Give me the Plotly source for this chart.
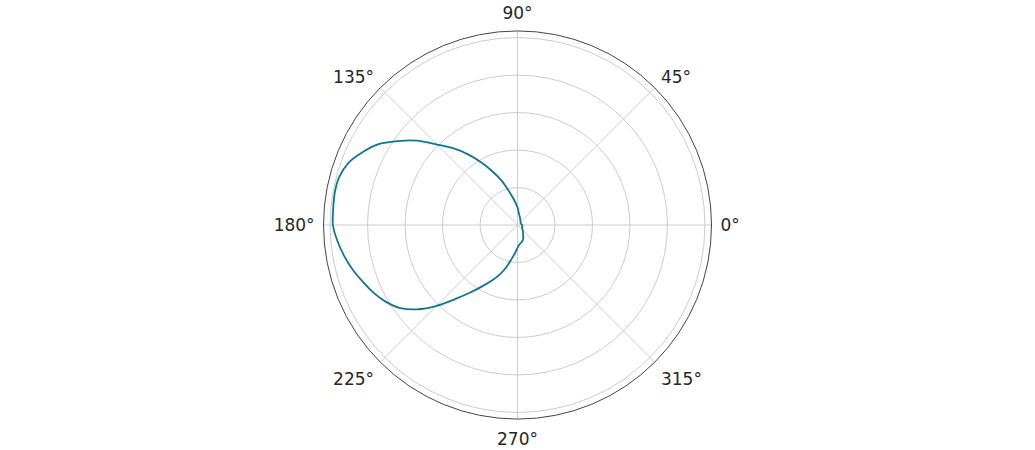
import plotly.graph_objects as go

theta_deg = [0, 10, 20, 30, 40, 50, 60, 70, 80, 85, 90, 95, 100, 105, 110, 115, 120, 125, 130,
             135, 140, 145, 150, 155, 160, 165, 170, 175, 180, 185, 190, 195, 200, 205, 210,
             215, 220, 225, 230, 235, 240, 245, 250, 255, 260, 265, 270, 275, 280, 285, 290,
             295, 300, 310, 320, 330, 340, 350, 360]
r_vals = [0.025, 0.022, 0.020, 0.020, 0.022, 0.025, 0.030, 0.040, 0.055, 0.068, 0.094, 0.118,
          0.150, 0.195, 0.255, 0.315, 0.385, 0.460, 0.535, 0.607, 0.700, 0.780, 0.860, 0.915,
          0.962, 0.985, 0.990, 0.987, 0.985, 0.965, 0.940, 0.912, 0.880, 0.850, 0.815, 0.770,
          0.700, 0.610, 0.515, 0.440, 0.378, 0.328, 0.283, 0.235, 0.185, 0.150, 0.122, 0.105,
          0.098, 0.092, 0.085, 0.073, 0.060, 0.045, 0.034, 0.028, 0.026, 0.025, 0.025]

r_ticks = [0.2, 0.4, 0.6, 0.8, 1.0]
ang_ticks = [0, 45, 90, 135, 180, 225, 270, 315]
ang_labels = [f"{a}°" for a in ang_ticks]

fig = go.Figure()
fig.add_trace(go.Scatterpolar(
    r=r_vals, theta=theta_deg, mode="lines",
    line=dict(color="#11758f", width=1.8, shape="spline", smoothing=0.8),
    showlegend=False, hoverinfo="skip",
))

fig.update_layout(
    width=1035, height=450,
    margin=dict(l=0, r=0, t=31, b=31),
    paper_bgcolor="white",
    font=dict(family="DejaVu Sans", size=17, color="#262626"),
    polar=dict(
        bgcolor="white",
        domain=dict(x=[0, 1], y=[0, 1]),
        radialaxis=dict(
            range=[0, 1.035], tickvals=r_ticks, showticklabels=False, ticks="",
            showline=False, gridcolor="#cccccc", gridwidth=1,
        ),
        angularaxis=dict(
            rotation=0, direction="counterclockwise",
            tickvals=ang_ticks, ticktext=ang_labels,
            ticks="outside", ticklen=5, tickcolor="rgba(0,0,0,0)",
            showline=True, linecolor="#444444", linewidth=1,
            gridcolor="#cccccc", gridwidth=1,
        ),
    ),
)

fig.write_html("out.html", config={"displayModeBar": False},
               post_script="document.body.style.margin='0';")
